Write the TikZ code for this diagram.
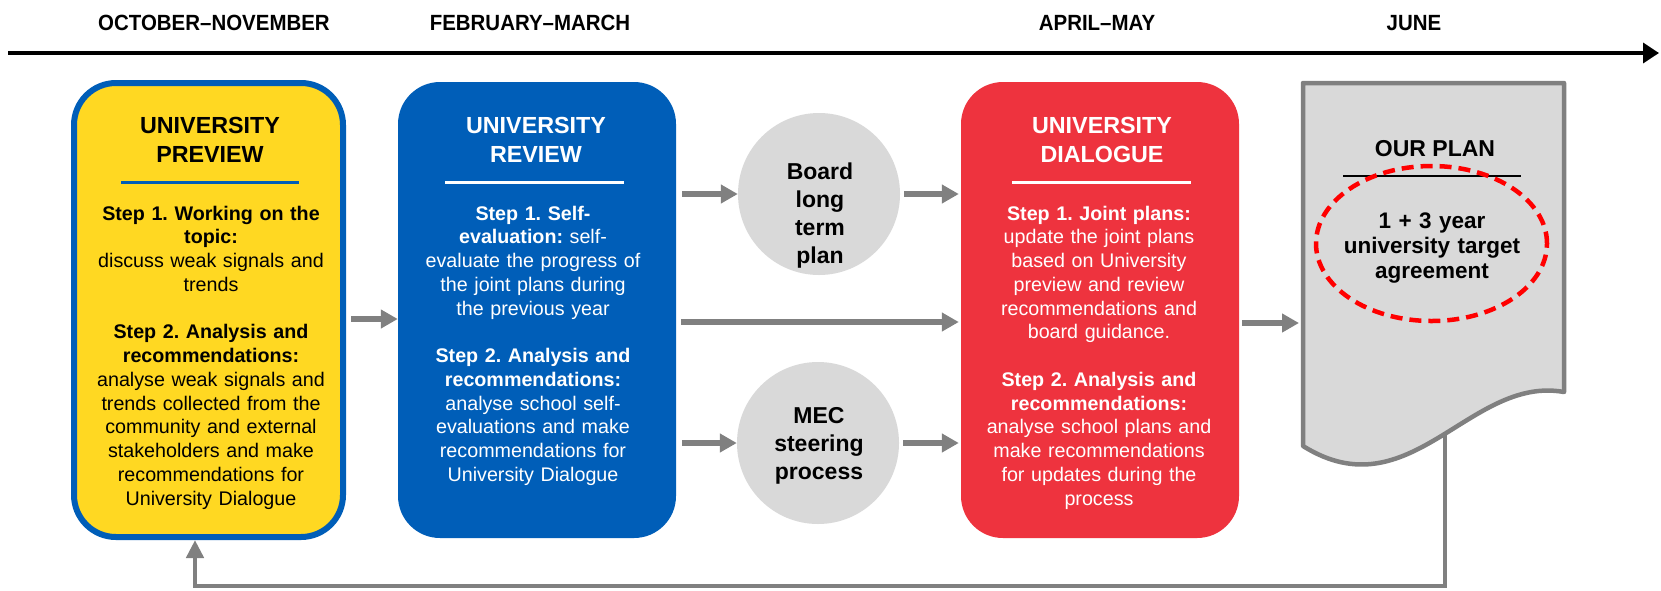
\documentclass[tikz,border=0pt]{standalone}
\usepackage{fontspec}
\setmainfont{Liberation Sans}
\newfontfamily\hdrfont[FakeStretch=0.93]{Liberation Sans}
\usetikzlibrary{arrows.meta,shapes.geometric}
\definecolor{ylw}{HTML}{FFD822}
\definecolor{blu}{HTML}{005EB8}
\definecolor{rd}{HTML}{EE333E}
\definecolor{lgray}{HTML}{D9D9D9}
\definecolor{dgray}{HTML}{808080}
\definecolor{dashred}{HTML}{FF0000}
\frenchspacing
\begin{document}
\begin{tikzpicture}[x=1pt,y=-1pt,
  hdr/.style={anchor=base, inner sep=0pt, font=\hdrfont\bfseries\fontsize{22pt}{26pt}\selectfont},
  stage/.style={rectangle, rounded corners=42pt, minimum width=278pt, minimum height=456pt, inner sep=0pt},
  stagetitle/.style={anchor=base, inner sep=0pt, text width=262pt, align=center, font=\bfseries\fontsize{23.3pt}{29pt}\selectfont},
  stagebody/.style={anchor=base, inner sep=0pt, text width=262pt, align=center, font=\fontsize{19.7pt}{23.75pt}\selectfont},
  bubble/.style={circle, fill=lgray, minimum size=162pt, inner sep=0pt},
  bubtext/.style={anchor=base, inner sep=0pt, text width=150pt, align=center, font=\bfseries\fontsize{23pt}{28.3pt}\selectfont},
  arr/.style={draw=dgray, line width=6pt, -{Triangle[length=17pt,width=18pt]}},
  fbarr/.style={draw=dgray, line width=4.5pt, -{Triangle[length=18pt,width=17pt]}},
  rule/.style={line width=3pt}
]
\useasboundingbox[fill=white] (0,0) rectangle (1661,590);

% timeline
\coordinate (tlS) at (8,53);
\coordinate (tlE) at (1659,53);
\draw[line width=3.5pt, -{Triangle[length=16pt,width=20pt]}] (tlS) -- (tlE);
\node[hdr] (h1) at (214,30) {OCTOBER\textendash NOVEMBER};
\node[hdr] (h2) at (530,30) {FEBRUARY\textendash MARCH};
\node[hdr] (h3) at (1097,30) {APRIL\textendash MAY};
\node[hdr] (h4) at (1414,30) {JUNE};

% stage boxes
\node[stage, fill=ylw, draw=blu, line width=6pt, minimum width=269pt, minimum height=454pt] (prev) at (208.5,310) {};
\node[stage, fill=blu] (review) at (537,310) {};
\node[stage, fill=rd] (dialog) at (1100,310) {};

% bubbles
\node[bubble] (board) at (819,194) {};
\node[bubble] (mec) at (818,443) {};
\node[bubtext] (boardt) at (820,179) {Board\\long\\term\\plan};
\node[bubtext] (mect) at (819,423) {MEC\\steering\\process};

% texts in yellow box
\node[stagetitle] (prevt) at (210,133) {UNIVERSITY\\PREVIEW};
\draw[rule, draw=blu] (121,182) -- (299,182);
\node[stagebody] (prevb) at (211,220) {\textbf{Step 1. Working on the}\\ \textbf{topic:}\\ discuss weak signals and\\ trends\\[23.75pt] \textbf{Step 2. Analysis and}\\ \textbf{recommendations:}\\ analyse weak signals and\\ trends collected from the\\ community and external\\ stakeholders and make\\ recommendations for\\ University Dialogue};

% texts in blue box
\node[stagetitle, text=white] (reviewt) at (536,133) {UNIVERSITY\\REVIEW};
\draw[rule, draw=white] (445,182) -- (624,182);
\node[stagebody, text=white] (reviewb) at (533,220) {\textbf{Step 1. Self-}\\ \textbf{evaluation:} self-\\ evaluate the progress of\\ the joint plans during\\ the previous year\\[23.75pt] \textbf{Step 2. Analysis and}\\ \textbf{recommendations:}\\ analyse school self-\\ evaluations and make\\ recommendations for\\ University Dialogue};

% texts in red box
\node[stagetitle, text=white] (dialogt) at (1102,133) {UNIVERSITY\\DIALOGUE};
\draw[rule, draw=white] (1012,182) -- (1191,182);
\node[stagebody, text=white] (dialogb) at (1099,220) {\textbf{Step 1. Joint plans:}\\ update the joint plans\\ based on University\\ preview and review\\ recommendations and\\ board guidance.\\[23.75pt] \textbf{Step 2. Analysis and}\\ \textbf{recommendations:}\\ analyse school plans and\\ make recommendations\\ for updates during the\\ process};

% feedback loop (drawn under the document)
\coordinate (planB) at (1445,430);
\coordinate (fb) at (195,586);
\draw[fbarr] (planB) |- (fb) -- (prev.south -| fb);

% document "our plan"
\draw[fill=lgray, draw=dgray, line width=4.5pt, line join=round]
  (1303,83) -- (1564,83) -- (1564,392)
  .. controls (1470,375) and (1410,513) .. (1303,446) -- cycle;
\coordinate (planW) at (1299,323);
\node[anchor=base, inner sep=0pt, font=\bfseries\fontsize{23pt}{28pt}\selectfont] (ourplan) at (1435,156) {OUR PLAN};
\draw[line width=2.5pt] (1343,176) -- (1521,176);
\node[ellipse, draw=dashred, line width=4.5pt, dash pattern=on 12pt off 7pt, minimum width=231pt, minimum height=155pt, inner sep=0pt] (target) at (1431.5,243.5) {};
\node[anchor=base, inner sep=0pt, text width=220pt, align=center, font=\bfseries\fontsize{22.5pt}{25pt}\selectfont] (targett) at (1432,228) {1 + 3 year\\ university target\\ agreement};

% connectors
\coordinate (midA) at (0,319);
\coordinate (midB) at (0,322);
\coordinate (midC) at (0,323);
\draw[arr, shorten <=5pt] (prev.east |- midA) -- (review.west |- midA);
\draw[arr, shorten <=6pt] (review.east |- board.west) -- (board.west);
\draw[arr, shorten <=4pt, shorten >=2pt] (board.east) -- (board.east -| dialog.west);
\draw[arr, shorten <=5pt, shorten >=2pt] (review.east |- midB) -- (dialog.west |- midB);
\draw[arr, shorten <=6pt] (review.east |- mec.west) -- (mec.west);
\draw[arr, shorten <=4pt, shorten >=2pt] (mec.east) -- (mec.east -| dialog.west);
\draw[arr, shorten <=3pt] (dialog.east |- midC) -- (planW);
\end{tikzpicture}
\end{document}
